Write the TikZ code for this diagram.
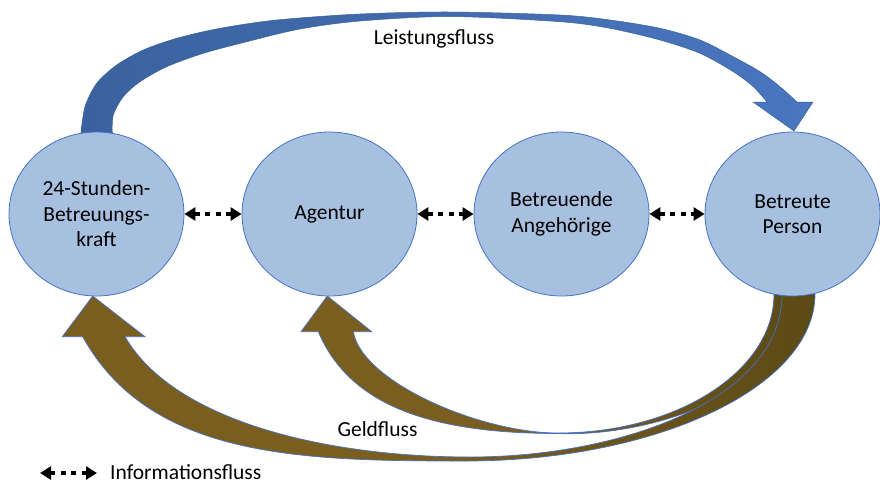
\documentclass[tikz,border=0pt]{standalone}
\usepackage{fontspec}
\setmainfont{Carlito}
\usetikzlibrary{arrows.meta,shapes.geometric}
\definecolor{circfill}{RGB}{168,192,224}
\definecolor{edgeblue}{RGB}{68,114,196}
\definecolor{blueD}{RGB}{58,98,158}
\definecolor{blueL}{RGB}{74,118,192}
\definecolor{brL}{RGB}{122,94,31}
\definecolor{brD}{RGB}{92,74,22}
\begin{document}
\begin{tikzpicture}[x=1pt,y=-1pt,
  circ/.style={ellipse, draw=edgeblue, line width=0.8pt, fill=circfill,
    minimum width=175pt, minimum height=164pt, inner sep=0pt, align=center,
    font=\fontsize{21.5}{25.5}\selectfont},
  info/.style={line width=4.5pt, dash pattern=on 5pt off 5.5pt,
    {Triangle[length=11pt,width=13pt]}-{Triangle[length=11pt,width=13pt]}},
  lbl/.style={font=\fontsize{21.5}{25.5}\selectfont, inner sep=0pt},
  leist/.style={left color=blueD, right color=blueL, draw=blueD, line width=0.5pt},
  geld/.style={left color=brL, right color=brD, middle color=brL, draw=edgeblue, line width=0.7pt}
]
\useasboundingbox (0,0) rectangle (880,483);

% Leistungsfluss arrow
\path[leist] plot[smooth] coordinates {(81,133) (85,106.7) (96.7,83.3) (116.7,65) (143.3,50) (176.7,38.3) (220,28.3) (276.7,20) (360,14) (450,12) (560,15) (610,20) (660,28.3) (700,40) (733.3,56.7) (760,71.7) (780,86.7) (797,102)}
  -- (813,102) -- (794,131) -- (753,102)
  -- plot[smooth] coordinates {(767,102) (753.3,86.7) (733.3,71.7) (700,53.3) (660,40) (610,28.3) (560,21.7) (450,16.5) (360,21) (300,29) (246.7,41.7) (203.3,53.3) (166.7,66.7) (140,81.7) (123.3,96.7) (113.3,115) (112.3,133)}
  -- cycle;

% Geldfluss arrow to Agentur
\path[geld] (318.3,331.7) .. controls (349.5,405.3) and (430,433.5) .. (558,433.5)
  .. controls (640,437) and (790,400) .. (790,294)
  -- (774,294) arc[start angle=0, end angle=90, x radius=216, y radius=139]
  .. controls (480,433) and (362,382) .. (353.3,331.7)
  -- (371.7,331.7) -- (327.3,296) -- (301,331.7) -- cycle;

% Geldfluss arrow to Betreuungskraft
\path[geld] (82.7,336.7) .. controls (150,458) and (300,461) .. (465,461)
  arc[start angle=90, end angle=0, x radius=350, y radius=167]
  -- (782,294) .. controls (782,400) and (620,457) .. (470,457)
  .. controls (330,457) and (175,422.7) .. (125,336.7)
  -- (145,336.7) -- (92.7,296) -- (62.3,336.7) -- cycle;

% circles
\node[circ] (kraft) at (96.5,214) {24-Stunden-\\Betreuungs-\\kraft};
\node[circ] (agentur) at (329.5,214) {Agentur};
\node[circ] (angeh) at (561.5,214) {Betreuende\\Angehörige};
\node[circ] (person) at (792.5,214) {Betreute\\Person};

% information flow
\draw[info] (kraft.east) -- (agentur.west);
\draw[info] (agentur.east) -- (angeh.west);
\draw[info] (angeh.east) -- (person.west);

% labels
\node[lbl] (leistlbl) at (434,39) {Leistungsfluss};
\node[lbl] (geldlbl) at (377.5,429) {Geldfluss};

% legend
\coordinate (legA) at (40,473);
\coordinate (legB) at (97,473);
\draw[info] (legA) -- (legB);
\node[lbl, anchor=west] (leglbl) at (110,472) {Informationsfluss};
\end{tikzpicture}
\end{document}
